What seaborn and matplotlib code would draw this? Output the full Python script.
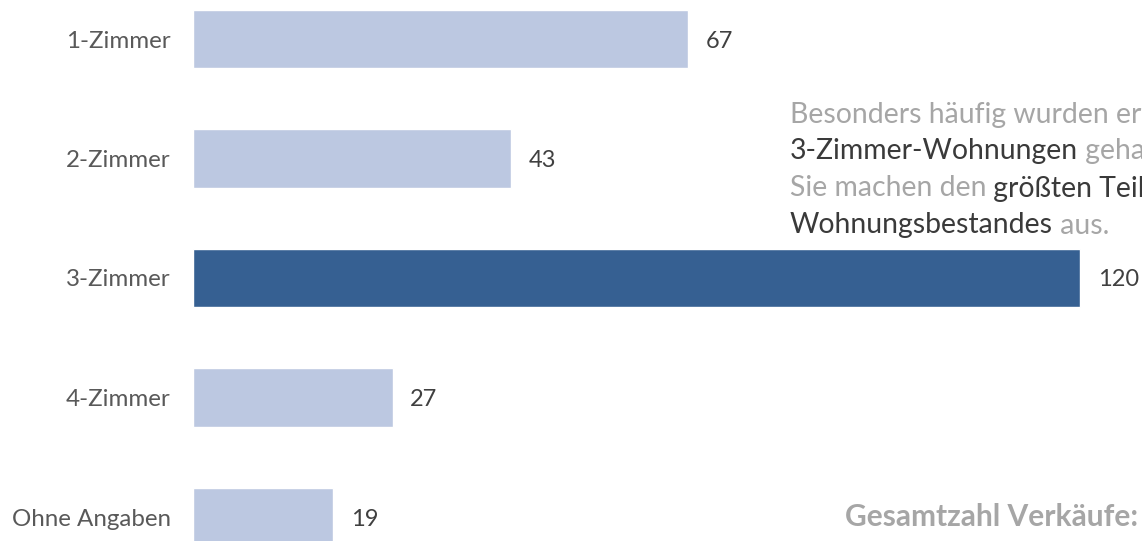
import matplotlib
matplotlib.use('Agg')
import matplotlib.pyplot as plt
import seaborn as sns
import pandas as pd

# Daten
kategorien = ['1-Zimmer', '2-Zimmer', '3-Zimmer', '4-Zimmer', 'Ohne Angaben']
verkaeufe = [67, 43, 120, 27, 19]
farben = ['#bcc8e1', '#bcc8e1', '#366092', '#bcc8e1', '#bcc8e1']

# Hinweistext, zeilenweise (Text, hervorgehoben?) - im Original am Rand abgeschnitten
hinweis = [
    [('Besonders häufig wurden er', False)],
    [('3-Zimmer-Wohnungen', True), (' geha', False)],
    [('Sie machen den', False), (' größten Teil', True)],
    [('Wohnungsbestandes', True), (' aus.', False)],
]
gesamt_text = 'Gesamtzahl Verkäufe:'

df = pd.DataFrame({'kategorie': kategorien, 'anzahl': verkaeufe})

sns.set_style('white')
plt.rcParams['font.family'] = ['Lato', 'DejaVu Sans']

fig = plt.figure(figsize=(11.42, 5.41), dpi=100)
ax = fig.add_axes([193 / 1142, 0, 1 - 193 / 1142, 1])

sns.barplot(data=df, y='kategorie', x='anzahl', hue='kategorie', palette=farben,
            orient='h', width=0.49, legend=False, ax=ax, saturation=1)

ax.set_xlim(0, 949 / 7.39)
ax.set_ylim(4 + 24 / 119.5, -39 / 119.5)
ax.set_xlabel('')
ax.set_ylabel('')
ax.set_xticks([])
ax.tick_params(axis='y', length=0, pad=16, labelsize=17.4, labelcolor='#595959')
sns.despine(ax=ax, left=True, bottom=True, top=True, right=True)

# Werte an den Balken
for i, v in enumerate(verkaeufe):
    ax.text(v + 2.4, i, str(v), va='center_baseline', ha='left', fontsize=17,
            color='#404040', clip_on=False)

# Hinweistext mit Hervorhebungen
zeilen_y = [1 - 112 / 541, 1 - 149 / 541, 1 - 186 / 541, 1 - 223 / 541]
for y, zeile in zip(zeilen_y, hinweis):
    prev = None
    for seg, hervor in zeile:
        farbe = '#3a3a3a' if hervor else '#a6a6a6'
        if prev is None:
            prev = fig.text(790 / 1142, y, seg, fontsize=20.4, color=farbe,
                            va='center_baseline', ha='left')
        else:
            prev = ax.annotate(seg, xy=(1, 0), xycoords=prev, xytext=(0, 0),
                               textcoords='offset points', va='bottom',
                               ha='left', fontsize=20.4, color=farbe)

fig.text(1138 / 1142, 1 - 514 / 541, gesamt_text, fontsize=21.5, fontweight='bold',
         color='#a6a6a6', ha='right', va='center_baseline')

fig.savefig('out.png', dpi=100)
